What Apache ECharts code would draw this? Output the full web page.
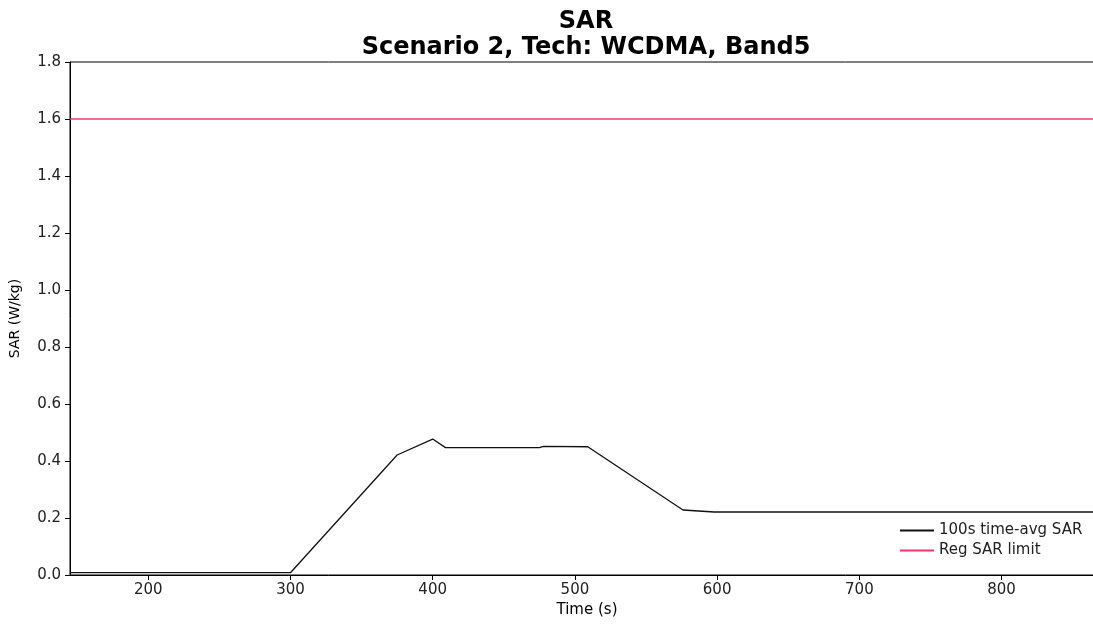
<!DOCTYPE html>
<html>
<head>
<meta charset="utf-8">
<script src="https://cdn.jsdelivr.net/npm/echarts@6/dist/echarts.min.js"></script>
<style>html,body{margin:0;padding:0;background:#fff;overflow:hidden;}#c{width:1112px;height:626px;}</style>
</head>
<body>
<div id="c"></div>
<script>
var timeS = [145, 300, 375, 400, 409, 475, 478, 509, 576, 598, 872];
var avgSar = [0.008, 0.008, 0.421, 0.477, 0.447, 0.447, 0.451, 0.450, 0.228, 0.221, 0.221];
var limitTime = [145, 872];
var limitSar = [1.6, 1.6];
var xTicks = [200, 300, 400, 500, 600, 700, 800];

var font = 'DejaVu Sans';
var chart = echarts.init(document.getElementById('c'), null, {renderer: 'canvas'});
chart.setOption({
  animation: false,
  backgroundColor: '#fff',
  title: {
    text: 'SAR\nScenario 2, Tech: WCDMA, Band5',
    left: 581, top: 4, textAlign: 'center',
    textStyle: {fontFamily: font, fontWeight: 'bold', fontSize: 24, lineHeight: 26, color: '#000'}
  },
  grid: {left: 69, right: 8, top: 62, bottom: 51, show: true, borderColor: '#000', borderWidth: 1, backgroundColor: 'transparent'},
  legend: {
    orient: 'vertical', left: 895, top: 518, itemGap: 5,
    itemWidth: 34, itemHeight: 2, icon: 'rect',
    textStyle: {fontFamily: font, fontSize: 15, color: '#222'},
    data: ['100s time-avg SAR', 'Reg SAR limit']
  },
  xAxis: {
    type: 'value', min: 145, max: 872,
    name: 'Time (s)', nameLocation: 'middle', nameGap: 28,
    nameTextStyle: {fontFamily: font, fontSize: 15, color: '#000'},
    axisLine: {show: true, lineStyle: {color: '#000'}},
    axisTick: {show: true, inside: false, length: 5, lineStyle: {color: '#000'}, customValues: xTicks},
    axisLabel: {fontFamily: font, fontSize: 15, color: '#222', margin: 8, customValues: xTicks},
    splitLine: {show: false}
  },
  yAxis: {
    type: 'value', min: 0, max: 1.8, interval: 0.2,
    name: 'SAR (W/kg)', nameLocation: 'middle', nameGap: 48, nameRotate: 90,
    nameTextStyle: {fontFamily: font, fontSize: 14, color: '#000'},
    axisLine: {show: true, lineStyle: {color: '#000'}},
    axisTick: {show: true, inside: false, length: 5, lineStyle: {color: '#000'}},
    axisLabel: {fontFamily: font, fontSize: 15, color: '#222', margin: 9, formatter: function(v){return v.toFixed(1);}},
    splitLine: {show: false}
  },
  series: [
    {
      name: '100s time-avg SAR', type: 'line', showSymbol: false, symbol: 'none',
      lineStyle: {color: '#111', width: 1.3}, itemStyle: {color: '#111'},
      data: timeS.map(function(t, i){return [t, avgSar[i]];}),
      z: 3
    },
    {
      name: 'Reg SAR limit', type: 'line', showSymbol: false, symbol: 'none',
      lineStyle: {color: '#f0386b', width: 1.5}, itemStyle: {color: '#f0386b'},
      data: limitTime.map(function(t, i){return [t, limitSar[i]];}),
      z: 2
    }
  ]
});
</script>
</body>
</html>
